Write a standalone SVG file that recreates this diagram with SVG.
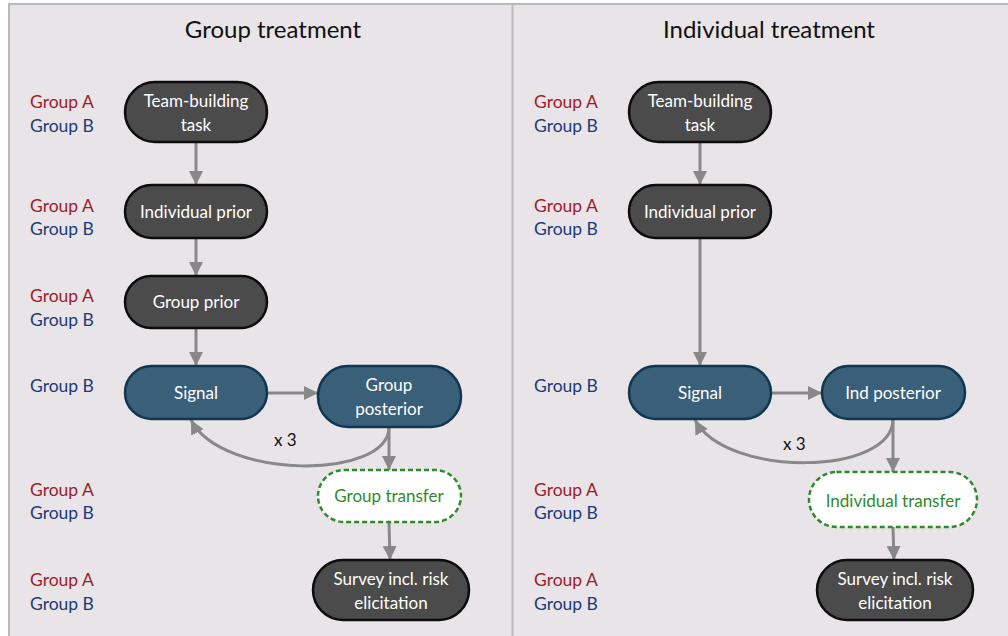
<svg xmlns="http://www.w3.org/2000/svg" width="1008" height="636" viewBox="0 0 1008 636">
<style>
text{font-family:Lato,"Open Sans","Liberation Sans",sans-serif}
.title{font-size:24px;fill:#111;text-anchor:middle}
.lbl{font-size:17.5px}
.a{fill:#9b1d2d}
.b{fill:#1d3a76}
.dark{fill:#4b4b4b;stroke:#0c0c0c;stroke-width:2.5}
.blue{fill:#3a6079;stroke:#103650;stroke-width:2.5}
.tr{fill:#ffffff;stroke:#2f8a2f;stroke-width:2.5;stroke-dasharray:5 3}
.nt{font-size:17px;fill:#ffffff;text-anchor:middle}
.gt{font-size:17px;fill:#2f8a2f;text-anchor:middle}
.conn{fill:none;stroke:#888888;stroke-width:3}
.x3{font-size:17px;fill:#111}
</style>
<defs>
<marker id="ah" markerUnits="userSpaceOnUse" markerWidth="16" markerHeight="16" viewBox="0 0 16 16" refX="14" refY="8" orient="auto">
<path d="M0,1 L14,8 L0,15 Z" fill="#888888"/>
</marker>
</defs>
<rect x="0" y="0" width="1008" height="636" fill="#ffffff"/>
<rect x="9" y="4" width="1010" height="640" fill="#e8e4e8" stroke="#b9b9b9" stroke-width="2"/>
<line x1="512.5" y1="4" x2="512.5" y2="636" stroke="#b9b9b9" stroke-width="2"/>
<text class="title" x="273" y="38">Group treatment</text>
<text class="title" x="769" y="38">Individual treatment</text>

<g id="labels-left" class="lbl">
<text class="a" x="30" y="108">Group A</text><text class="b" x="30" y="132">Group B</text>
<text class="a" x="30" y="212">Group A</text><text class="b" x="30" y="235">Group B</text>
<text class="a" x="30" y="302">Group A</text><text class="b" x="30" y="326">Group B</text>
<text class="b" x="30" y="392">Group B</text>
<text class="a" x="30" y="496">Group A</text><text class="b" x="30" y="519">Group B</text>
<text class="a" x="30" y="586">Group A</text><text class="b" x="30" y="610">Group B</text>
</g>
<g id="labels-right" class="lbl">
<text class="a" x="534" y="108">Group A</text><text class="b" x="534" y="132">Group B</text>
<text class="a" x="534" y="212">Group A</text><text class="b" x="534" y="235">Group B</text>
<text class="b" x="534" y="392">Group B</text>
<text class="a" x="534" y="496">Group A</text><text class="b" x="534" y="519">Group B</text>
<text class="a" x="534" y="586">Group A</text><text class="b" x="534" y="610">Group B</text>
</g>

<g id="connectors">
<line class="conn" x1="196" y1="142" x2="196" y2="185" marker-end="url(#ah)"/>
<line class="conn" x1="196" y1="238" x2="196" y2="276" marker-end="url(#ah)"/>
<line class="conn" x1="196" y1="328" x2="196" y2="366" marker-end="url(#ah)"/>
<line class="conn" x1="267" y1="393" x2="318" y2="393" marker-end="url(#ah)"/>
<line class="conn" x1="389" y1="427" x2="389" y2="470" marker-end="url(#ah)"/>
<path class="conn" d="M389,427 C389,480 222,480 191,420" marker-end="url(#ah)"/>
<line class="conn" x1="389" y1="522" x2="390" y2="560" marker-end="url(#ah)"/>

<line class="conn" x1="700" y1="142" x2="700" y2="185" marker-end="url(#ah)"/>
<line class="conn" x1="700" y1="238" x2="700" y2="366" marker-end="url(#ah)"/>
<line class="conn" x1="771" y1="393" x2="822" y2="393" marker-end="url(#ah)"/>
<line class="conn" x1="893" y1="419" x2="893" y2="472" marker-end="url(#ah)"/>
<path class="conn" d="M893,419 C893,476 726,478 695,420" marker-end="url(#ah)"/>
<line class="conn" x1="893" y1="527" x2="894" y2="560" marker-end="url(#ah)"/>
<text class="x3" x="274" y="446">x 3</text>
<text class="x3" x="783" y="450">x 3</text>
</g>

<g id="team-left"><rect class="dark" x="125" y="82" width="142" height="60" rx="30"/><text class="nt" x="196" y="107">Team-building</text><text class="nt" x="196" y="131">task</text></g>
<g id="indprior-left"><rect class="dark" x="125" y="185" width="142" height="53" rx="26.5"/><text class="nt" x="196" y="218">Individual prior</text></g>
<g id="groupprior-left"><rect class="dark" x="125" y="276" width="142" height="52" rx="26"/><text class="nt" x="196" y="308">Group prior</text></g>
<g id="signal-left"><rect class="blue" x="125" y="366" width="142" height="53" rx="26.5"/><text class="nt" x="196" y="399">Signal</text></g>
<g id="gpost-left"><rect class="blue" x="318" y="366" width="143" height="61" rx="30"/><text class="nt" x="389" y="391">Group</text><text class="nt" x="389" y="415">posterior</text></g>
<g id="gtransfer-left"><rect class="tr" x="318" y="470" width="143" height="52" rx="26"/><text class="gt" x="389" y="502">Group transfer</text></g>
<g id="survey-left"><rect class="dark" x="313" y="560" width="156" height="60" rx="30"/><text class="nt" x="391" y="585">Survey incl. risk</text><text class="nt" x="391" y="609">elicitation</text></g>

<g id="team-right"><rect class="dark" x="629" y="82" width="142" height="60" rx="30"/><text class="nt" x="700" y="107">Team-building</text><text class="nt" x="700" y="131">task</text></g>
<g id="indprior-right"><rect class="dark" x="629" y="185" width="142" height="53" rx="26.5"/><text class="nt" x="700" y="218">Individual prior</text></g>
<g id="signal-right"><rect class="blue" x="629" y="366" width="142" height="53" rx="26.5"/><text class="nt" x="700" y="399">Signal</text></g>
<g id="ipost-right"><rect class="blue" x="822" y="366" width="143" height="53" rx="26.5"/><text class="nt" x="893" y="399">Ind posterior</text></g>
<g id="itransfer-right"><rect class="tr" x="809" y="472" width="168" height="55" rx="27.5"/><text class="gt" x="893" y="507">Individual transfer</text></g>
<g id="survey-right"><rect class="dark" x="817" y="560" width="156" height="60" rx="30"/><text class="nt" x="895" y="585">Survey incl. risk</text><text class="nt" x="895" y="609">elicitation</text></g>
</svg>
